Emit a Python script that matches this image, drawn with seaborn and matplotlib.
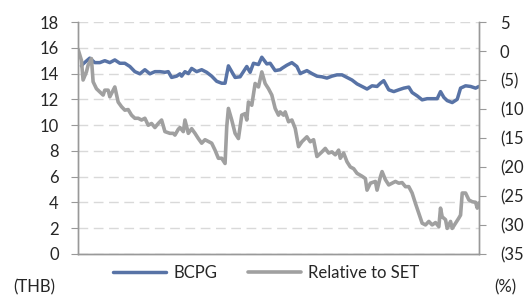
import pandas as pd
import seaborn as sns
import matplotlib.pyplot as plt
import numpy as np

# BCPG share price (THB)
bcpg_day = [2, 3, 7, 10, 13, 16, 19, 22, 25, 28, 31, 34, 37, 40, 43, 46, 49, 52, 54, 56,
            59, 61, 62, 64, 66, 68, 71, 74, 77, 80, 83, 86, 88, 90, 92, 94, 97, 99, 101, 103,
            105, 108, 110, 113, 115, 118, 121, 122, 125, 128, 131, 133, 137, 140, 143, 146, 149, 152, 155, 158,
            161, 164, 167, 170, 173, 176, 179, 181, 183, 186, 189, 192, 195, 198, 200, 203, 206, 209, 212, 215,
            217, 219, 221, 224, 227, 229, 232, 235, 238, 240]
bcpg_price = [14.6, 14.75, 15.2, 14.85, 14.85, 15.0, 14.85, 15.06, 14.8, 14.8, 14.55, 14.15, 13.98, 14.3, 13.98, 14.15, 14.15, 14.1, 14.15, 13.7,
              13.8, 13.98, 13.8, 14.15, 14.0, 14.4, 14.15, 14.3, 14.1, 13.8, 13.4, 13.25, 13.25, 14.6, 14.15, 13.7, 13.75, 14.15, 14.55, 14.1,
              14.8, 14.7, 15.27, 14.75, 14.8, 14.23, 14.3, 14.4, 14.65, 14.85, 14.55, 14.0, 14.23, 14.0, 13.8, 13.75, 13.65, 13.8, 13.9, 13.9,
              13.7, 13.5, 13.2, 13.0, 12.8, 13.05, 13.0, 13.25, 13.45, 12.74, 12.6, 12.74, 12.87, 12.95, 12.53, 12.27, 11.96, 12.05, 12.05, 12.05,
              12.6, 12.15, 11.9, 11.75, 12.0, 12.87, 13.05, 13.0, 12.87, 13.0]

# Performance relative to SET (%)
rel_day = [0, 2, 3, 5, 6, 8, 9, 11, 13, 15, 16, 18, 19, 21, 22, 24, 26, 28, 30, 32,
           34, 36, 38, 40, 42, 44, 46, 48, 50, 52, 55, 57, 58, 60, 61, 63, 64, 66, 68, 70,
           72, 74, 76, 78, 80, 82, 84, 86, 88, 89, 90, 92, 94, 96, 98, 100, 101, 102, 104, 106,
           108, 110, 112, 114, 116, 118, 120, 121, 123, 124, 126, 128, 130, 132, 134, 137, 139, 141, 143, 146,
           148, 150, 152, 154, 156, 157, 159, 161, 163, 165, 167, 170, 172, 173, 175, 178, 179, 181, 182, 184,
           186, 188, 190, 192, 194, 196, 198, 200, 202, 204, 206, 208, 210, 212, 214, 216, 217, 218, 220, 221,
           223, 224, 226, 228, 229, 230, 232, 234, 236, 238, 239, 240]
rel_set = [0.3, -1.6, -5.0, -3.6, -2.45, -1.3, -5.3, -6.5, -7.05, -7.6, -6.75, -6.75, -7.9, -6.75, -6.2, -8.8, -9.6, -10.2, -10.1, -11.06,
           -11.6, -11.6, -11.9, -11.6, -12.8, -12.5, -13.2, -12.5, -11.9, -13.9, -14.2, -14.2, -14.5, -13.5, -13.2, -13.9, -11.9, -14.2, -13.4, -14.2,
           -15.1, -15.9, -15.3, -15.6, -15.9, -17.1, -18.5, -18.5, -19.4, -13.1, -9.9, -11.9, -14.2, -15.1, -11.06, -10.8, -11.9, -8.8, -9.35, -5.6,
           -6.2, -3.6, -5.6, -6.5, -7.6, -9.9, -11.06, -10.5, -11.06, -10.5, -12.2, -11.9, -13.35, -16.5, -15.65, -14.8, -15.65, -15.3, -18.2, -17.4,
           -16.8, -17.6, -17.4, -17.9, -17.1, -18.5, -17.6, -19.1, -20.0, -20.3, -21.1, -21.6, -22.0, -24.0, -22.8, -22.5, -24.0, -21.7, -20.8, -22.2,
           -23.1, -22.8, -22.5, -22.8, -22.7, -23.4, -23.4, -24.5, -26.3, -28.0, -29.7, -30.0, -29.4, -30.0, -29.6, -30.3, -27.1, -28.6, -29.1, -30.6,
           -29.4, -30.6, -29.7, -28.8, -28.3, -24.5, -24.5, -25.7, -26.0, -26.1, -27.1, -26.2]

left_ticks = list(range(0, 19, 2))
right_ticks = list(range(-35, 6, 5))
right_labels = ["(%d)" % -t if t < 0 else str(t) for t in right_ticks]

sns.set_style("white")
plt.rcParams['font.family'] = ['Lato', 'DejaVu Sans']

blue = "#5873A6"
grey = "#A0A0A0"

fig = plt.figure(figsize=(5.24, 2.98), dpi=100)
ax = fig.add_axes([0.149, 0.148, 0.765, 0.778])
ax2 = ax.twinx()

sns.lineplot(x=bcpg_day, y=bcpg_price, ax=ax, color=blue, linewidth=2.5, label="BCPG")
sns.lineplot(x=rel_day, y=rel_set, ax=ax2, color=grey, linewidth=2.6, label="Relative to SET")
for a in (ax, ax2):
    if a.get_legend():
        a.get_legend().remove()

ax.set_xlim(0, 240)
ax.set_ylim(0, 18)
ax2.set_ylim(-35, 5)
ax.set_yticks(left_ticks)
ax2.set_yticks(right_ticks)
ax2.set_yticklabels(right_labels)
ax.set_xticks([])
ax.set_xlabel("")
ax.set_ylabel("")

ax.grid(axis="y", color="#D9D9D9", linestyle=(0, (7, 4)), linewidth=1)
ax.set_axisbelow(True)

spine_c = "#999999"
for a in (ax, ax2):
    a.spines["top"].set_visible(False)
    for s in ("left", "right", "bottom"):
        a.spines[s].set_color(spine_c)
        a.spines[s].set_linewidth(1.0)
ax.tick_params(axis="y", length=5, color=spine_c, labelsize=12, pad=9, left=True)
ax2.tick_params(axis="y", length=5, color=spine_c, labelsize=12, pad=10, right=True)

fig.text(0.025, 0.035, "(THB)", fontsize=12, ha="left", va="center")
fig.text(0.943, 0.035, "(%)", fontsize=12, ha="left", va="center")

handles = ax.get_lines()[:1] + ax2.get_lines()[:1]
fig.legend(handles, ["BCPG", "Relative to SET"], loc="center", bbox_to_anchor=(0.508, 0.085),
           ncol=2, frameon=False, fontsize=12, handlelength=3.2, handletextpad=0.4,
           columnspacing=1.85)

fig.savefig("out.png", dpi=100)
